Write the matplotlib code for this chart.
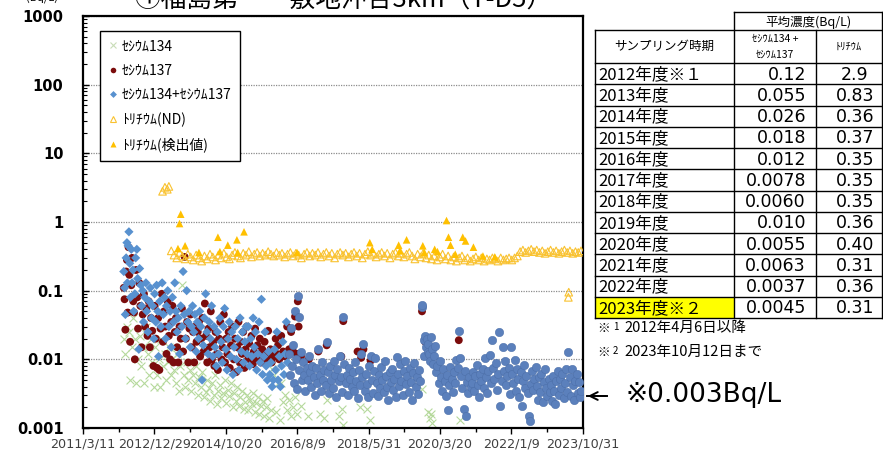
import matplotlib.pyplot as plt
from matplotlib.lines import Line2D
from matplotlib.patches import Rectangle
from matplotlib.transforms import Affine2D
from datetime import datetime

# ---- data: (decimal year, Bq/L) ----
cs134 = [
    (2012.22, 0.02), (2012.26, 0.012), (2012.3, 0.03), (2012.34, 0.025), (2012.38, 0.005), (2012.42, 0.015),
    (2012.46, 0.04), (2012.5, 0.02), (2012.54, 0.0045), (2012.58, 0.01), (2012.62, 0.022), (2012.66, 0.008),
    (2012.7, 0.015), (2012.74, 0.0045), (2012.78, 0.03), (2012.82, 0.012), (2012.86, 0.006), (2012.9, 0.02),
    (2012.94, 0.009), (2012.98, 0.004),
    (2013.02, 0.015), (2013.06, 0.006), (2013.1, 0.01), (2013.13, 0.004), (2013.17, 0.02), (2013.21, 0.008),
    (2013.25, 0.012), (2013.29, 0.005), (2013.33, 0.009), (2013.37, 0.015), (2013.41, 0.006), (2013.45, 0.01),
    (2013.49, 0.007), (2013.53, 0.0045), (2013.57, 0.012), (2013.61, 0.0035), (2013.65, 0.008), (2013.7, 0.12),
    (2013.73, 0.006), (2013.77, 0.004), (2013.81, 0.009), (2013.85, 0.005), (2013.89, 0.007), (2013.93, 0.0035),
    (2013.97, 0.006),
    (2014.01, 0.0045), (2014.05, 0.008), (2014.09, 0.003), (2014.13, 0.0055), (2014.17, 0.004), (2014.21, 0.0065),
    (2014.25, 0.0028), (2014.29, 0.0033), (2014.33, 0.005), (2014.37, 0.0038), (2014.41, 0.0025), (2014.45, 0.0045),
    (2014.49, 0.003), (2014.53, 0.006), (2014.57, 0.0022), (2014.61, 0.0035), (2014.65, 0.0042), (2014.69, 0.0027),
    (2014.73, 0.0032), (2014.77, 0.005), (2014.81, 0.0023), (2014.85, 0.0036), (2014.89, 0.0029), (2014.93, 0.0045),
    (2014.97, 0.002),
    (2015.01, 0.0032), (2015.05, 0.0025), (2015.09, 0.004), (2015.13, 0.0021), (2015.17, 0.0028), (2015.21, 0.0035),
    (2015.25, 0.0019), (2015.29, 0.0024), (2015.33, 0.003), (2015.37, 0.0018), (2015.41, 0.0026), (2015.45, 0.0022),
    (2015.49, 0.0032), (2015.53, 0.0017), (2015.57, 0.0023), (2015.61, 0.0028), (2015.65, 0.0016), (2015.69, 0.0021),
    (2015.73, 0.0025), (2015.77, 0.0015), (2015.81, 0.002), (2015.85, 0.0027), (2015.89, 0.0014), (2015.93, 0.0018),
    (2015.97, 0.0072),
    (2016.03, 0.006), (2016.08, 0.0017), (2016.12, 0.0045), (2016.16, 0.0013), (2016.2, 0.0045), (2016.25, 0.0024),
    (2016.3, 0.003), (2016.35, 0.0018), (2016.4, 0.0026), (2016.45, 0.0015), (2016.5, 0.002), (2016.55, 0.0028),
    (2016.6, 0.0016), (2016.7, 0.0021), (2016.87, 0.0015),
    (2017.18, 0.0016), (2017.27, 0.0014), (2017.35, 0.0026), (2017.65, 0.0015), (2017.73, 0.0019), (2017.76, 0.0011),
    (2018.19, 0.002), (2018.38, 0.0019), (2018.44, 0.0013),
    (2019.77, 0.0037), (2019.92, 0.0017), (2019.95, 0.0014), (2019.98, 0.0016), (2020.02, 0.0012), (2020.71, 0.0013),
]

cs137 = [
    (2012.22, 0.11), (2012.24, 0.075), (2012.26, 0.027), (2012.28, 0.19), (2012.3, 0.28), (2012.32, 0.048),
    (2012.34, 0.43), (2012.36, 0.17), (2012.38, 0.018), (2012.41, 0.12), (2012.43, 0.3), (2012.46, 0.07),
    (2012.48, 0.048), (2012.5, 0.01), (2012.53, 0.2), (2012.56, 0.08), (2012.58, 0.028), (2012.61, 0.13),
    (2012.64, 0.06), (2012.67, 0.015), (2012.7, 0.045), (2012.73, 0.09), (2012.76, 0.03), (2012.79, 0.055),
    (2012.82, 0.022), (2012.85, 0.07), (2012.88, 0.015), (2012.91, 0.04), (2012.94, 0.026), (2012.97, 0.008),
    (2013.0, 0.06), (2013.03, 0.02), (2013.06, 0.0075), (2013.09, 0.04), (2013.12, 0.007), (2013.15, 0.028),
    (2013.18, 0.09), (2013.21, 0.018), (2013.24, 0.05), (2013.27, 0.03), (2013.3, 0.012), (2013.33, 0.07),
    (2013.36, 0.022), (2013.39, 0.01), (2013.42, 0.035), (2013.45, 0.06), (2013.48, 0.009), (2013.51, 0.025),
    (2013.54, 0.04), (2013.57, 0.015), (2013.6, 0.009), (2013.63, 0.03), (2013.66, 0.02), (2013.69, 0.055),
    (2013.72, 0.013), (2013.76, 0.31), (2013.79, 0.02), (2013.82, 0.035), (2013.85, 0.009), (2013.88, 0.028),
    (2013.91, 0.045), (2013.94, 0.015), (2013.97, 0.025),
    (2014.0, 0.009), (2014.03, 0.03), (2014.06, 0.018), (2014.09, 0.025), (2014.12, 0.035), (2014.15, 0.011),
    (2014.18, 0.02), (2014.21, 0.04), (2014.24, 0.013), (2014.27, 0.065), (2014.3, 0.022), (2014.33, 0.009),
    (2014.36, 0.028), (2014.39, 0.015), (2014.42, 0.05), (2014.45, 0.01), (2014.48, 0.018), (2014.51, 0.008),
    (2014.54, 0.025), (2014.57, 0.012), (2014.6, 0.007), (2014.63, 0.02), (2014.66, 0.035), (2014.69, 0.01),
    (2014.72, 0.015), (2014.75, 0.045), (2014.78, 0.009), (2014.81, 0.02), (2014.84, 0.012), (2014.87, 0.025),
    (2014.9, 0.0075), (2014.93, 0.016), (2014.96, 0.03),
    (2015.0, 0.01), (2015.03, 0.02), (2015.06, 0.0065), (2015.09, 0.015), (2015.12, 0.035), (2015.15, 0.009),
    (2015.18, 0.018), (2015.21, 0.012), (2015.24, 0.025), (2015.27, 0.0075), (2015.3, 0.014), (2015.33, 0.03),
    (2015.36, 0.01), (2015.39, 0.017), (2015.42, 0.011), (2015.45, 0.022), (2015.48, 0.0085), (2015.51, 0.013),
    (2015.54, 0.028), (2015.57, 0.01), (2015.6, 0.016), (2015.63, 0.012), (2015.66, 0.02), (2015.69, 0.009),
    (2015.72, 0.014), (2015.75, 0.011), (2015.78, 0.018), (2015.81, 0.0095), (2015.84, 0.012), (2015.87, 0.026),
    (2015.9, 0.011), (2015.93, 0.014), (2015.96, 0.009),
    (2016.0, 0.013), (2016.03, 0.011), (2016.06, 0.02), (2016.09, 0.012), (2016.12, 0.016), (2016.15, 0.01),
    (2016.2, 0.022), (2016.25, 0.013), (2016.3, 0.011), (2016.35, 0.03), (2016.4, 0.014), (2016.45, 0.025),
    (2016.5, 0.013), (2016.55, 0.042), (2016.6, 0.012), (2016.62, 0.07), (2016.64, 0.03), (2016.7, 0.011),
    (2016.9, 0.01), (2017.14, 0.013), (2017.35, 0.016), (2017.72, 0.011), (2017.77, 0.036), (2018.13, 0.013),
    (2018.22, 0.0105), (2018.28, 0.014), (2018.46, 0.0095),
    (2019.76, 0.05), (2019.84, 0.018), (2019.88, 0.017), (2019.92, 0.015), (2020.69, 0.019),
]

cs_sum_early = [
    (2012.22, 0.19), (2012.24, 0.11), (2012.26, 0.045), (2012.28, 0.3), (2012.3, 0.5), (2012.31, 0.13),
    (2012.33, 0.45), (2012.35, 0.72), (2012.37, 0.25), (2012.39, 0.08), (2012.41, 0.4), (2012.43, 0.13),
    (2012.45, 0.2), (2012.47, 0.05), (2012.5, 0.09), (2012.52, 0.3), (2012.55, 0.4), (2012.57, 0.15),
    (2012.6, 0.014), (2012.62, 0.21), (2012.65, 0.12), (2012.67, 0.06), (2012.7, 0.1), (2012.72, 0.035),
    (2012.75, 0.08), (2012.78, 0.13), (2012.8, 0.05), (2012.83, 0.025), (2012.86, 0.07), (2012.89, 0.11),
    (2012.92, 0.04), (2012.95, 0.06), (2012.98, 0.02),
    (2013.0, 0.09), (2013.03, 0.035), (2013.05, 0.12), (2013.08, 0.05), (2013.1, 0.011), (2013.13, 0.07),
    (2013.16, 0.03), (2013.19, 0.13), (2013.22, 0.045), (2013.25, 0.08), (2013.28, 0.02), (2013.3, 0.06),
    (2013.33, 0.1), (2013.36, 0.03), (2013.39, 0.05), (2013.42, 0.015), (2013.45, 0.08), (2013.48, 0.035),
    (2013.51, 0.13), (2013.54, 0.05), (2013.57, 0.025), (2013.6, 0.04), (2013.63, 0.012), (2013.66, 0.06),
    (2013.69, 0.03), (2013.72, 0.19), (2013.75, 0.045), (2013.78, 0.02), (2013.81, 0.1), (2013.84, 0.035),
    (2013.87, 0.05), (2013.9, 0.015), (2013.93, 0.03), (2013.96, 0.06), (2013.99, 0.025),
    (2014.02, 0.045), (2014.05, 0.013), (2014.08, 0.035), (2014.11, 0.02), (2014.14, 0.05), (2014.17, 0.03),
    (2014.2, 0.005), (2014.23, 0.016), (2014.26, 0.04), (2014.29, 0.09), (2014.32, 0.025), (2014.35, 0.012),
    (2014.38, 0.035), (2014.41, 0.02), (2014.44, 0.06), (2014.47, 0.011), (2014.5, 0.03), (2014.53, 0.015),
    (2014.56, 0.008), (2014.59, 0.025), (2014.62, 0.012), (2014.65, 0.04), (2014.68, 0.018), (2014.71, 0.009),
    (2014.74, 0.03), (2014.77, 0.055), (2014.8, 0.014), (2014.83, 0.007), (2014.86, 0.02), (2014.89, 0.035),
    (2014.92, 0.011), (2014.95, 0.025), (2014.98, 0.006),
    (2015.01, 0.015), (2015.04, 0.03), (2015.07, 0.01), (2015.1, 0.02), (2015.13, 0.007), (2015.16, 0.04),
    (2015.19, 0.013), (2015.22, 0.025), (2015.25, 0.009), (2015.28, 0.018), (2015.31, 0.03), (2015.34, 0.012),
    (2015.37, 0.03), (2015.4, 0.008), (2015.43, 0.02), (2015.46, 0.011), (2015.49, 0.04), (2015.52, 0.015),
    (2015.55, 0.025), (2015.58, 0.007), (2015.61, 0.012), (2015.64, 0.035), (2015.67, 0.009), (2015.7, 0.075),
    (2015.73, 0.006), (2015.76, 0.011), (2015.79, 0.025), (2015.82, 0.008), (2015.85, 0.005), (2015.88, 0.013),
    (2015.91, 0.006), (2015.94, 0.009), (2015.97, 0.004),
    (2016.0, 0.005), (2016.03, 0.014), (2016.06, 0.007), (2016.09, 0.025), (2016.12, 0.005), (2016.15, 0.011),
    (2016.18, 0.004), (2016.21, 0.008), (2016.24, 0.018), (2016.27, 0.006), (2016.3, 0.012), (2016.33, 0.035),
    (2016.36, 0.009),
]

cs_sum_late = [
    (2016.4, 0.012), (2016.43, 0.006), (2016.46, 0.029), (2016.48, 0.008), (2016.5, 0.016), (2016.53, 0.0045),
    (2016.55, 0.05), (2016.57, 0.01), (2016.6, 0.0037), (2016.62, 0.083), (2016.64, 0.042), (2016.66, 0.007),
    (2016.69, 0.013), (2016.72, 0.005), (2016.75, 0.009), (2016.78, 0.006), (2016.81, 0.0035), (2016.84, 0.0075),
    (2016.87, 0.005), (2016.9, 0.011), (2016.93, 0.0065), (2016.96, 0.004), (2016.99, 0.008),
    (2017.02, 0.0055), (2017.05, 0.003), (2017.08, 0.0075), (2017.11, 0.0045), (2017.14, 0.014), (2017.17, 0.006),
    (2017.2, 0.0035), (2017.23, 0.009), (2017.26, 0.005), (2017.29, 0.007), (2017.32, 0.0042), (2017.35, 0.018),
    (2017.38, 0.0065), (2017.41, 0.0032), (2017.44, 0.008), (2017.47, 0.005), (2017.5, 0.0038), (2017.53, 0.0095),
    (2017.56, 0.006), (2017.59, 0.0028), (2017.62, 0.0072), (2017.65, 0.0048), (2017.68, 0.011), (2017.71, 0.0055),
    (2017.74, 0.0034), (2017.77, 0.042), (2017.8, 0.0085), (2017.83, 0.0045), (2017.86, 0.006), (2017.89, 0.003),
    (2017.92, 0.0075), (2017.95, 0.0052), (2017.98, 0.0039),
    (2018.01, 0.0065), (2018.04, 0.0035), (2018.07, 0.009), (2018.1, 0.0048), (2018.13, 0.0027), (2018.16, 0.007),
    (2018.19, 0.0042), (2018.22, 0.012), (2018.25, 0.0055), (2018.28, 0.017), (2018.31, 0.0035), (2018.34, 0.0062),
    (2018.37, 0.0044), (2018.4, 0.0028), (2018.43, 0.008), (2018.46, 0.011), (2018.49, 0.005), (2018.52, 0.0032),
    (2018.55, 0.0068), (2018.58, 0.0105), (2018.61, 0.0045), (2018.64, 0.0029), (2018.67, 0.006), (2018.7, 0.0038),
    (2018.73, 0.0078), (2018.76, 0.005), (2018.79, 0.0033), (2018.82, 0.0095), (2018.85, 0.0058), (2018.88, 0.004),
    (2018.91, 0.0026), (2018.94, 0.0066), (2018.97, 0.0046),
    (2019.0, 0.0072), (2019.03, 0.0036), (2019.06, 0.0052), (2019.09, 0.0028), (2019.12, 0.0107), (2019.15, 0.0062),
    (2019.18, 0.0041), (2019.21, 0.0085), (2019.24, 0.0048), (2019.27, 0.003), (2019.3, 0.0068), (2019.33, 0.0095),
    (2019.36, 0.0044), (2019.39, 0.0058), (2019.42, 0.0033), (2019.45, 0.0075), (2019.48, 0.0046), (2019.51, 0.0026),
    (2019.54, 0.0064), (2019.57, 0.0088), (2019.6, 0.004), (2019.63, 0.0055), (2019.66, 0.0031), (2019.69, 0.0071),
    (2019.72, 0.0049), (2019.76, 0.057), (2019.77, 0.062), (2019.8, 0.011), (2019.82, 0.019), (2019.84, 0.022),
    (2019.86, 0.015), (2019.88, 0.02), (2019.9, 0.013), (2019.92, 0.017), (2019.94, 0.012), (2019.96, 0.0095),
    (2019.98, 0.021),
    (2020.0, 0.014), (2020.03, 0.0085), (2020.06, 0.011), (2020.09, 0.0155), (2020.12, 0.0065), (2020.15, 0.008),
    (2020.18, 0.0045), (2020.21, 0.0095), (2020.24, 0.0055), (2020.27, 0.0035), (2020.3, 0.0072), (2020.33, 0.0048),
    (2020.36, 0.0029), (2020.39, 0.006), (2020.42, 0.0018), (2020.45, 0.0042), (2020.48, 0.0078), (2020.51, 0.0052),
    (2020.54, 0.0033), (2020.57, 0.0065), (2020.6, 0.0045), (2020.63, 0.0098), (2020.66, 0.0075), (2020.69, 0.026),
    (2020.72, 0.0105), (2020.75, 0.0058), (2020.78, 0.0038), (2020.81, 0.0019), (2020.84, 0.0068), (2020.87, 0.0015),
    (2020.9, 0.0047), (2020.93, 0.0032), (2020.96, 0.0055), (2020.99, 0.0039),
    (2021.02, 0.0045), (2021.05, 0.0065), (2021.08, 0.0035), (2021.11, 0.0058), (2021.14, 0.0082), (2021.17, 0.0042),
    (2021.2, 0.0028), (2021.23, 0.0062), (2021.26, 0.0048), (2021.29, 0.0072), (2021.32, 0.0038), (2021.35, 0.0105),
    (2021.38, 0.0055), (2021.41, 0.0032), (2021.44, 0.0068), (2021.47, 0.0115), (2021.5, 0.0045), (2021.53, 0.019),
    (2021.56, 0.0075), (2021.59, 0.0052), (2021.62, 0.0088), (2021.65, 0.0036), (2021.68, 0.0062), (2021.71, 0.025),
    (2021.74, 0.0021), (2021.77, 0.0048), (2021.8, 0.015), (2021.83, 0.0068), (2021.86, 0.0095), (2021.89, 0.0042),
    (2021.92, 0.0058), (2021.95, 0.0075), (2021.98, 0.0031),
    (2022.01, 0.015), (2022.04, 0.0062), (2022.07, 0.0045), (2022.1, 0.0098), (2022.13, 0.0035), (2022.16, 0.0072),
    (2022.19, 0.0052), (2022.22, 0.0028), (2022.25, 0.0065), (2022.28, 0.0021), (2022.31, 0.0048), (2022.34, 0.0082),
    (2022.37, 0.0038), (2022.4, 0.0058), (2022.43, 0.0032), (2022.46, 0.0015), (2022.48, 0.00125), (2022.51, 0.0044),
    (2022.54, 0.0068), (2022.57, 0.0036), (2022.6, 0.0052), (2022.63, 0.0078), (2022.66, 0.0041), (2022.69, 0.0026),
    (2022.72, 0.0055), (2022.75, 0.0034), (2022.78, 0.0062), (2022.81, 0.0024), (2022.84, 0.0046), (2022.87, 0.0072),
    (2022.9, 0.0038), (2022.93, 0.0029), (2022.96, 0.0052), (2022.99, 0.0033),
    (2023.01, 0.0042), (2023.04, 0.0025), (2023.07, 0.0058), (2023.1, 0.0035), (2023.13, 0.0022), (2023.16, 0.0048),
    (2023.19, 0.0068), (2023.22, 0.003), (2023.25, 0.0052), (2023.28, 0.0038), (2023.31, 0.0062), (2023.34, 0.0027),
    (2023.37, 0.0045), (2023.4, 0.0072), (2023.43, 0.0033), (2023.46, 0.013), (2023.49, 0.0055), (2023.52, 0.0029),
    (2023.55, 0.0072), (2023.58, 0.0042), (2023.61, 0.0026), (2023.64, 0.0048), (2023.67, 0.0062), (2023.7, 0.0032),
    (2023.73, 0.0046), (2023.76, 0.0028), (2023.78, 0.0035),
]

h3_nd = [
    (2013.2, 2.8), (2013.26, 3.2), (2013.32, 3.0), (2013.36, 3.3),
    (2013.42, 0.38), (2013.49, 0.33), (2013.56, 0.30), (2013.63, 0.36), (2013.70, 0.32), (2013.77, 0.29),
    (2013.84, 0.34), (2013.91, 0.31), (2013.98, 0.28), (2014.05, 0.33), (2014.12, 0.30), (2014.19, 0.27),
    (2014.26, 0.32), (2014.33, 0.29), (2014.40, 0.34), (2014.47, 0.31), (2014.54, 0.28), (2014.61, 0.33),
    (2014.68, 0.30), (2014.75, 0.35), (2014.82, 0.31), (2014.89, 0.29), (2014.96, 0.33), (2015.03, 0.36),
    (2015.10, 0.32), (2015.17, 0.30), (2015.24, 0.35), (2015.31, 0.33), (2015.38, 0.37), (2015.45, 0.31),
    (2015.52, 0.34), (2015.59, 0.36), (2015.66, 0.32), (2015.73, 0.35), (2015.80, 0.33), (2015.87, 0.37),
    (2015.94, 0.34), (2016.01, 0.32), (2016.08, 0.36), (2016.15, 0.33), (2016.22, 0.35), (2016.29, 0.31),
    (2016.36, 0.34), (2016.43, 0.36), (2016.50, 0.32), (2016.57, 0.35), (2016.64, 0.33), (2016.71, 0.30),
    (2016.78, 0.34), (2016.85, 0.36), (2016.92, 0.32), (2016.99, 0.35), (2017.06, 0.33), (2017.13, 0.36),
    (2017.20, 0.31), (2017.27, 0.34), (2017.34, 0.36), (2017.41, 0.32), (2017.48, 0.35), (2017.55, 0.30),
    (2017.62, 0.34), (2017.69, 0.36), (2017.76, 0.33), (2017.83, 0.35), (2017.90, 0.31), (2017.97, 0.34),
    (2018.04, 0.36), (2018.11, 0.32), (2018.18, 0.35), (2018.25, 0.30), (2018.32, 0.34), (2018.39, 0.37),
    (2018.46, 0.33), (2018.53, 0.35), (2018.60, 0.31), (2018.67, 0.34), (2018.74, 0.36), (2018.81, 0.32),
    (2018.88, 0.35), (2018.95, 0.30), (2019.02, 0.34), (2019.09, 0.36), (2019.16, 0.32), (2019.23, 0.35),
    (2019.30, 0.31), (2019.37, 0.34), (2019.44, 0.36), (2019.51, 0.32), (2019.58, 0.29), (2019.65, 0.34),
    (2019.72, 0.31), (2019.79, 0.35), (2019.86, 0.30), (2019.93, 0.33), (2020.00, 0.29), (2020.07, 0.32),
    (2020.14, 0.28), (2020.21, 0.31), (2020.28, 0.34), (2020.35, 0.29), (2020.42, 0.32), (2020.49, 0.28),
    (2020.56, 0.31), (2020.63, 0.27), (2020.70, 0.30), (2020.77, 0.32), (2020.84, 0.28), (2020.91, 0.30),
    (2020.98, 0.27), (2021.05, 0.29), (2021.12, 0.31), (2021.19, 0.28), (2021.26, 0.30), (2021.33, 0.27),
    (2021.40, 0.29), (2021.47, 0.28), (2021.54, 0.30), (2021.61, 0.29), (2021.68, 0.27), (2021.75, 0.30),
    (2021.82, 0.28), (2021.89, 0.29), (2021.96, 0.30), (2022.03, 0.28), (2022.10, 0.30), (2022.17, 0.32),
    (2022.24, 0.37), (2022.31, 0.39), (2022.38, 0.36), (2022.45, 0.38), (2022.52, 0.40), (2022.59, 0.37),
    (2022.66, 0.39), (2022.73, 0.36), (2022.80, 0.38), (2022.87, 0.35), (2022.94, 0.37), (2023.01, 0.39),
    (2023.08, 0.36), (2023.15, 0.38), (2023.22, 0.35), (2023.29, 0.37), (2023.36, 0.39), (2023.43, 0.36),
    (2023.50, 0.38), (2023.57, 0.35), (2023.64, 0.37), (2023.71, 0.36), (2023.78, 0.38),
    (2023.46, 0.08), (2023.47, 0.095),
]

h3_det = [
    (2013.59, 0.41), (2013.63, 0.95), (2013.66, 1.3), (2013.77, 0.45), (2014.12, 0.36), (2014.6, 0.6),
    (2014.65, 0.37), (2014.85, 0.46), (2015.08, 0.55), (2015.1, 0.36), (2015.26, 0.72), (2016.6, 0.36),
    (2018.44, 0.5), (2018.5, 0.4), (2019.17, 0.46), (2019.2, 0.38), (2019.37, 0.55), (2019.78, 0.45),
    (2019.82, 0.36), (2020.08, 0.4), (2020.15, 0.37), (2020.38, 1.05), (2020.43, 0.6), (2020.48, 0.46),
    (2020.6, 0.34), (2020.79, 0.6), (2020.86, 0.53), (2021.06, 0.43), (2021.3, 0.32), (2021.6, 0.31),
]

tick_dates = ['2011/3/11', '2012/12/29', '2014/10/20', '2016/8/9', '2018/5/31', '2020/3/20', '2022/1/9', '2023/10/31']
y_ticks = [0.001, 0.01, 0.1, 1, 10, 100, 1000]
y_tick_labels = ['0.001', '0.01', '0.1', '1', '10', '100', '1000']

periods = ['2012年度※１', '2013年度', '2014年度', '2015年度', '2016年度', '2017年度',
           '2018年度', '2019年度', '2020年度', '2021年度', '2022年度', '2023年度※２']
cs_avg = ['0.12', '0.055', '0.026', '0.018', '0.012', '0.0078', '0.0060', '0.010', '0.0055', '0.0063', '0.0037', '0.0045']
h3_avg = ['2.9', '0.83', '0.36', '0.37', '0.35', '0.35', '0.35', '0.36', '0.40', '0.31', '0.36', '0.31']


def to_year(s):
    d = datetime.strptime(s, '%Y/%m/%d')
    start, end = datetime(d.year, 1, 1), datetime(d.year + 1, 1, 1)
    return d.year + (d - start).days / (end - start).days


def xs(pts):
    return [p[0] for p in pts]


def ys(pts):
    return [p[1] for p in pts]


plt.rcParams['font.family'] = ['Noto Sans CJK JP', 'DejaVu Sans']

W, H = 883, 451
fig = plt.figure(figsize=(W / 100, H / 100), dpi=100)
# pixel coordinates, y pointing down
pix = Affine2D().scale(1 / W, -1 / H).translate(0, 1) + fig.transFigure

ax = fig.add_axes([83 / W, 1 - 428 / H, 500 / W, 412 / H])

ax.scatter(xs(cs134), ys(cs134), marker='x', s=32, c='#B5D99C', linewidths=0.8, zorder=2)
ax.scatter(xs(cs137), ys(cs137), marker='o', s=32, c='#7B0C0C', edgecolors='none', zorder=3)
ax.scatter(xs(cs_sum_early), ys(cs_sum_early), marker='D', s=22, c='#5891CF', edgecolors='none', zorder=4)
ax.scatter(xs(cs_sum_late), ys(cs_sum_late), marker='o', s=36, c='#5B80BC', edgecolors='#4D70AA',
           linewidths=0.4, zorder=4)
ax.scatter(xs(h3_nd), ys(h3_nd), marker='^', s=30, facecolors='none', edgecolors='#F9C230', linewidths=0.8, zorder=5)
ax.scatter(xs(h3_det), ys(h3_det), marker='^', s=30, c='#FFC000', edgecolors='none', zorder=6)

ax.set_yscale('log')
ax.set_ylim(0.001, 1000)
xt = [to_year(s) for s in tick_dates]
ax.set_xlim(xt[0], xt[-1])
ax.set_xticks(xt)
ax.set_xticklabels(tick_dates, fontsize=9.2, color='#404040', family='DejaVu Sans')
ax.set_xticks([(a + b) / 2 for a, b in zip(xt[:-1], xt[1:])], minor=True)
ax.set_yticks(y_ticks)
ax.set_yticklabels(y_tick_labels, fontsize=10.5, fontweight='bold', family='DejaVu Sans')
ax.tick_params(axis='x', which='major', direction='out', length=4, width=1, pad=3)
ax.tick_params(axis='x', which='minor', direction='out', length=3, width=1)
ax.tick_params(axis='y', which='major', direction='in', length=4, width=1, pad=14)
ax.tick_params(axis='y', which='minor', direction='in', length=3, width=0.8)
ax.yaxis.grid(True, which='major', linestyle=(0, (1, 1)), color='#8C8C8C', linewidth=0.9)
ax.set_axisbelow(True)
for sp in ax.spines.values():
    sp.set_linewidth(1.6)
    sp.set_color('black')

handles = [
    Line2D([], [], ls='none', marker='x', ms=4, color='#C9DDB8', mew=0.8),
    Line2D([], [], ls='none', marker='o', ms=4, color='#7B0C0C', mec='none'),
    Line2D([], [], ls='none', marker='D', ms=3.5, color='#5891CF', mec='none'),
    Line2D([], [], ls='none', marker='^', ms=4.5, mfc='none', mec='#F9C230', mew=0.8),
    Line2D([], [], ls='none', marker='^', ms=4.5, color='#FFC000', mec='none'),
]
labels = ['ｾｼｳﾑ134', 'ｾｼｳﾑ137', 'ｾｼｳﾑ134+ｾｼｳﾑ137', 'ﾄﾘﾁｳﾑ(ND)', 'ﾄﾘﾁｳﾑ(検出値)']
leg = ax.legend(handles, labels, loc='upper left', bbox_to_anchor=(0.034, 0.964), fontsize=10,
                frameon=True, fancybox=False, edgecolor='black', framealpha=1, borderpad=0.6,
                labelspacing=0.75, handlelength=0.6, handletextpad=0.4, borderaxespad=0)
leg.get_frame().set_linewidth(1.0)

# title (cropped at the top edge in the reference)
fig.text(344 / W, 1 - 8 / H, '④福島第一　敷地沖合3km（T-D5）', ha='center', va='baseline', fontsize=18.5)
fig.text(42 / W, 1 - 1 / H, '(Bq/L)', ha='center', va='baseline', fontsize=8)

# ---- table ----
cx = [595, 734, 816, 882]
top, h1, h2 = 12, 30, 63
rh = (318 - h2) / len(periods)
row_y = [h2 + i * rh for i in range(len(periods) + 1)]

fig.add_artist(Rectangle((cx[0], row_y[-2]), cx[1] - cx[0], rh, transform=pix, facecolor='#FFFF00', edgecolor='none'))

def hline(x0, x1, y):
    fig.add_artist(Line2D([x0, x1], [y, y], transform=pix, color='black', lw=1))

def vline(x, y0, y1):
    fig.add_artist(Line2D([x, x], [y0, y1], transform=pix, color='black', lw=1))

hline(cx[1], cx[3], top)
hline(cx[0], cx[3], h1)
for y in row_y:
    hline(cx[0], cx[3], y)
vline(cx[0], h1, row_y[-1])
vline(cx[1], top, row_y[-1])
vline(cx[2], h1, row_y[-1])
vline(cx[3], top, row_y[-1])

def ptext(x, y, s, **kw):
    fig.text(x / W, 1 - y / H, s, **kw)

ptext((cx[1] + cx[3]) / 2, (top + h1) / 2 + 1, '平均濃度(Bq/L)', ha='center', va='center', fontsize=9)
ptext((cx[0] + cx[1]) / 2, (h1 + h2) / 2, 'サンプリング時期', ha='center', va='center', fontsize=9)
ptext((cx[1] + cx[2]) / 2, 39, 'ｾｼｳﾑ134 +', ha='center', va='center', fontsize=7.5)
ptext((cx[1] + cx[2]) / 2, 55, 'ｾｼｳﾑ137', ha='center', va='center', fontsize=7.5)
ptext((cx[2] + cx[3]) / 2, (h1 + h2) / 2, 'ﾄﾘﾁｳﾑ', ha='center', va='center', fontsize=7.5)

for i, (p, c, t) in enumerate(zip(periods, cs_avg, h3_avg)):
    yc = row_y[i] + rh / 2 + 1
    ptext(cx[0] + 3, yc, p, ha='left', va='center', fontsize=12)
    ptext(cx[2] - 10, yc, c, ha='right', va='center', fontsize=12.5, family='DejaVu Sans')
    ptext((cx[2] + cx[3]) / 2 + 6, yc, t, ha='center', va='center', fontsize=12.5, family='DejaVu Sans')

ptext(597, 328, '※', ha='left', va='center', fontsize=9)
ptext(613, 327, '1', ha='left', va='center', fontsize=7)
ptext(624, 328, '2012年4月6日以降', ha='left', va='center', fontsize=10.5)
ptext(597, 352, '※', ha='left', va='center', fontsize=9)
ptext(613, 351, '2', ha='left', va='center', fontsize=7)
ptext(624, 352, '2023年10月12日まで', ha='left', va='center', fontsize=10.5)

# arrow and note
fig.add_artist(Line2D([587, 607], [396, 396], transform=pix, color='black', lw=1.4))
ax.annotate('', xy=(585 / W, 1 - 396 / H), xytext=(608 / W, 1 - 396 / H), xycoords='figure fraction',
            arrowprops=dict(arrowstyle='->', lw=1.4, color='black', mutation_scale=14), annotation_clip=False)
ptext(625, 395, '※0.003Bq/L', ha='left', va='center', fontsize=19, family=['DejaVu Sans', 'Noto Sans CJK JP'])

fig.savefig('out.png', dpi=100)
